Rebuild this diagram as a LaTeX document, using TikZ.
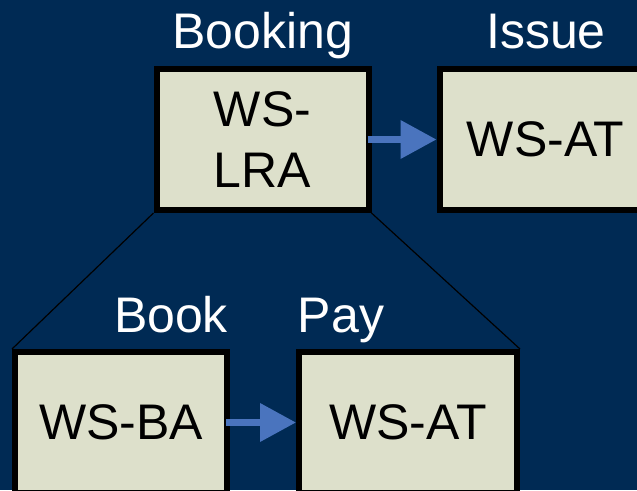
\documentclass[tikz,border=0pt]{standalone}
\usepackage{fontspec}
\setmainfont{Liberation Sans}
\usetikzlibrary{arrows.meta}
\definecolor{navybg}{RGB}{0,42,84}
\definecolor{boxfill}{RGB}{221,224,203}
\definecolor{flowblue}{RGB}{74,116,190}
\begin{document}
\begin{tikzpicture}[x=1pt, y=-1pt,
    % Styles
    wsbox/.style={draw=black, fill=boxfill, line width=6pt, minimum width=212pt, minimum height=141pt, align=center, font=\fontsize{50}{61}\selectfont, inner sep=0pt},
    scopelabel/.style={text=white, anchor=base, font=\fontsize{50}{58}\selectfont, inner sep=0pt},
    flow-arrow/.style={-{Triangle[length=36pt, width=37pt]}, line width=7pt, flowblue, shorten <=-4pt},
    tree-line/.style={black, line width=1.2pt},
]

% Background
\fill[navybg] (0,0) rectangle (637,490);
\useasboundingbox (0,0) rectangle (637,490);

% TOP: Booking and Issue
\node[wsbox] (lra) at (262.5, 139.5) {WS-\\LRA};
\node[wsbox] (issue) at (545.5, 139.5) {WS-AT};
\node[scopelabel] (booking-label) at (262.5, 48) {Booking};
\node[scopelabel] (issue-label) at (546, 48) {Issue};

% BOTTOM: Book and Pay
\node[wsbox] (ba) at (121, 422.5) {WS-BA};
\node[wsbox, minimum width=218pt] (pay) at (408, 422.5) {WS-AT};
\node[scopelabel] (book-label) at (171, 332) {Book};
\node[scopelabel] (pay-label) at (341, 332) {Pay};

% Tree lines
\draw[tree-line] (lra.south west) -- (ba.north west);
\draw[tree-line] (lra.south east) -- (pay.north east);

% Flow arrows
\draw[flow-arrow] (lra.east) -- (issue.west);
\draw[flow-arrow] (ba.east) -- (pay.west);

\end{tikzpicture}
\end{document}
